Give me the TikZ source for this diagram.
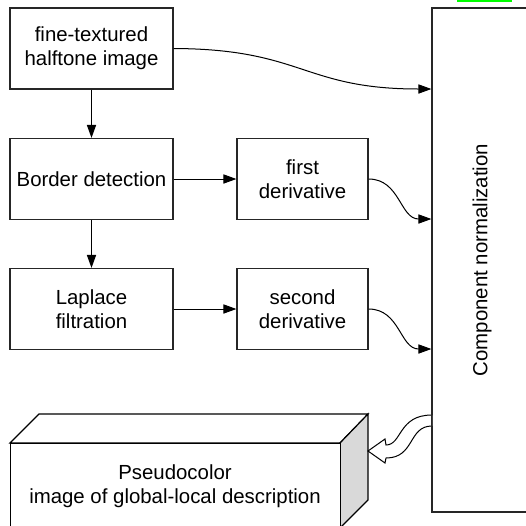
\documentclass[tikz,border=0pt]{standalone}
\usepackage{fontspec}
\setmainfont{Liberation Sans}
\usetikzlibrary{arrows.meta}
\begin{document}
\begin{tikzpicture}[x=0.5pt,y=-0.5pt,
  font=\fontsize{10.2}{12.2}\selectfont,
  box/.style={draw=black!85,line width=0.6pt,align=center,minimum height=40.5pt,inner sep=0pt},
  wide/.style={box,minimum width=81.5pt},
  narrow/.style={box,minimum width=65.5pt},
  conn/.style={line width=0.5pt,-{Triangle[length=6.5pt,width=4.6pt]}}]
\useasboundingbox (0,0) rectangle (526,526);
\clip (0,0) rectangle (526,526);
% remnant of caption line above
\fill[green] (457,-2) rectangle (512,2);
% boxes
\node[wide] (b1) at (91.5,48.5) {fine-textured\\halftone image};
\node[wide] (b2) at (91.5,179) {Border detection};
\node[wide] (b3) at (91.5,309) {Laplace\\filtration};
\node[narrow] (d1) at (302.5,179) {first\\derivative};
\node[narrow] (d2) at (302.5,309) {second\\derivative};
\node[draw=black!85,line width=0.6pt,minimum width=50pt,minimum height=252pt,inner sep=0pt] (cn) at (482,260) {\rotatebox{90}{Component normalization}};
% connectors
\draw[conn] (b1) -- (b2);
\draw[conn] (b2) -- (b3);
\draw[conn] (b2) -- (d1);
\draw[conn] (b3) -- (d2);
\coordinate (e1) at (cn.west |- 0,89);
\coordinate (e2) at (cn.west |- 0,219);
\coordinate (e3) at (cn.west |- 0,349);
\draw[conn] (b1.east) .. controls (303,49) and (303,89) .. (e1);
\draw[conn] (d1.east) .. controls (400,179) and (400,219) .. (e2);
\draw[conn] (d2.east) .. controls (400,309) and (400,349) .. (e3);
% 3D output box
\draw[line width=0.6pt,fill=white] (10,443) -- (39,414) -- (368,414) -- (340,443) -- cycle;
\draw[line width=0.6pt,fill=black!15] (340,443) -- (368,414) -- (368,500) -- (340,528) -- cycle;
\node[draw,line width=0.6pt,fill=white,minimum width=165pt,minimum height=48pt,anchor=north west,align=center,inner sep=0pt] (pd) at (10,443) {};
\node[align=center] (pdt) at (175,486) {Pseudocolor\\image of global-local description};
% hollow curved arrow
\draw[line width=0.5pt,fill=white] (432,415) .. controls (398,415) and (402,445) .. (386,445)
  -- (385,439) -- (368,451) -- (385,463) -- (386,458)
  .. controls (415,458) and (408,426) .. (432,426);
\draw[draw=black!85,line width=0.6pt] (cn.north west) -- (cn.south west);
\end{tikzpicture}
\end{document}
